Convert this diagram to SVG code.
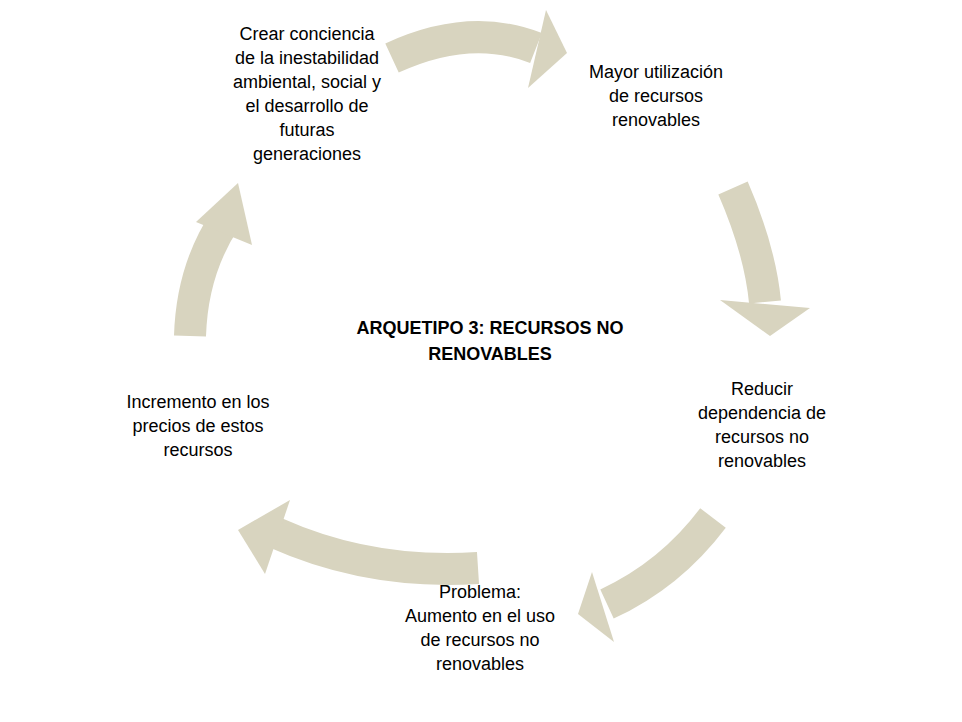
<svg xmlns="http://www.w3.org/2000/svg" width="962" height="722" viewBox="0 0 962 722">
<style>
.t{font-family:"Liberation Sans",Arial,sans-serif;font-size:18px;fill:#000;text-anchor:middle}
.b{font-weight:bold}
.body{fill:none;stroke:#d8d4bf;stroke-width:32}
.head{fill:#d8d4bf}
</style>
<rect width="962" height="722" fill="#fff"/>
<g id="connectors">
<path class="body" d="M392,58 Q470,22 536,48"/><polygon class="head" points="546,10 567,53 528,88"/>
<path class="body" d="M733,188 Q760,250 765,302"/><polygon class="head" points="720,300 810,308 770,336"/>
<path class="body" d="M713,518 Q670,575 607,604"/><polygon class="head" points="592,572 578,614 614,642"/>
<path class="body" d="M478,568 Q370,575 276,533"/><polygon class="head" points="290,500 238,530 265,574"/>
<path class="body" d="M190,336 Q192,270 225,220"/><polygon class="head" points="196,222 238,183 252,245"/>
</g>
<g id="n1"><text class="t" x="307" y="40">Crear conciencia<tspan x="307" dy="24">de la inestabilidad</tspan><tspan x="307" dy="24">ambiental, social y</tspan><tspan x="307" dy="24">el desarrollo de</tspan><tspan x="307" dy="24">futuras</tspan><tspan x="307" dy="24">generaciones</tspan></text></g>
<g id="n2"><text class="t" x="656" y="78">Mayor utilización<tspan x="656" dy="24">de recursos</tspan><tspan x="656" dy="24">renovables</tspan></text></g>
<g id="n3"><text class="t" x="762" y="395">Reducir<tspan x="762" dy="24">dependencia de</tspan><tspan x="762" dy="24">recursos no</tspan><tspan x="762" dy="24">renovables</tspan></text></g>
<g id="n4"><text class="t" x="480" y="598">Problema:<tspan x="480" dy="24">Aumento en el uso</tspan><tspan x="480" dy="24">de recursos no</tspan><tspan x="480" dy="24">renovables</tspan></text></g>
<g id="n5"><text class="t" x="198" y="408">Incremento en los<tspan x="198" dy="24">precios de estos</tspan><tspan x="198" dy="24">recursos</tspan></text></g>
<g id="title"><text class="t b" x="490" y="334">ARQUETIPO 3: RECURSOS NO<tspan x="490" dy="26">RENOVABLES</tspan></text></g>
</svg>
